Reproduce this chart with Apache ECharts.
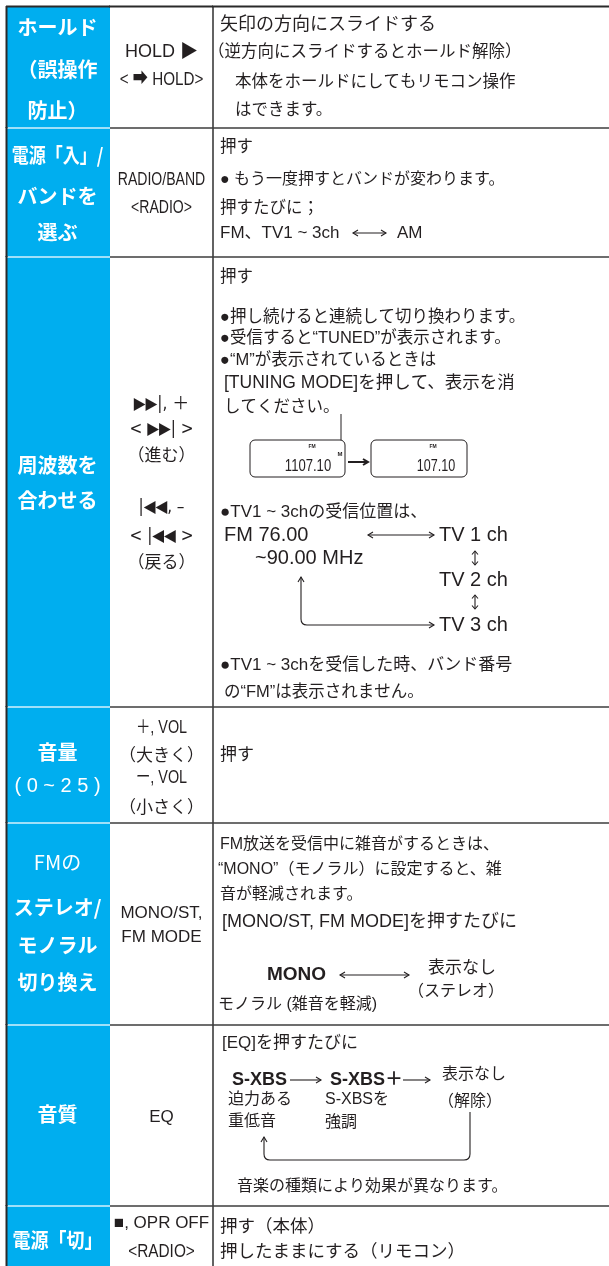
<!DOCTYPE html>
<html><head><meta charset="utf-8">
<script src="https://cdn.jsdelivr.net/npm/echarts@6/dist/echarts.min.js"></script>
<style>html,body{margin:0;padding:0;background:#fff}#c{width:609px;height:1266px}</style>
</head><body><div id="c"></div>
<script>
// ---------- DATA ----------
const columnEdges = [7, 110, 213, 609];
const rowEdges = [7, 128, 257, 707, 823, 1025, 1206, 1266];

const functionNames = [
  ['ホールド', '（誤操作', '防止）'],
  ['電源「入」/', 'バンドを', '選ぶ'],
  ['周波数を', '合わせる'],
  ['音量', '( 0 ~ 2 5 )'],
  ['FMの', 'ステレオ/', 'モノラル', '切り換え'],
  ['音質'],
  ['電源「切」']
];
const buttonNames = [
  ['HOLD ▶', '< ➡ HOLD>'],
  ['RADIO/BAND', '<RADIO>'],
  ['▶▶|, ＋', '< ▶▶| >', '（進む）', '|◀◀, –', '< |◀◀ >', '（戻る）'],
  ['＋, VOL', '（大きく）', 'ー, VOL', '（小さく）'],
  ['MONO/ST,', 'FM MODE'],
  ['EQ'],
  ['■, OPR OFF', '<RADIO>']
];
const operationLines = [
  ['矢印の方向にスライドする', '（逆方向にスライドするとホールド解除）', '本体をホールドにしてもリモコン操作', 'はできます。'],
  ['押す', '● もう一度押すとバンドが変わります。', '押すたびに；', 'FM、TV1 ~ 3ch', 'AM'],
  ['押す', '●押し続けると連続して切り換わります。', '●受信すると“TUNED”が表示されます。', '●“M”が表示されているときは',
   '[TUNING MODE]を押して、表示を消', 'してください。', '●TV1 ~ 3chの受信位置は、', '●TV1 ~ 3chを受信した時、バンド番号', 'の“FM”は表示されません。'],
  ['押す'],
  ['FM放送を受信中に雑音がするときは、', '“MONO”（モノラル）に設定すると、雑', '音が軽減されます。', '[MONO/ST, FM MODE]を押すたびに', 'モノラル (雑音を軽減)'],
  ['[EQ]を押すたびに', '音楽の種類により効果が異なります。'],
  ['押す（本体）', '押したままにする（リモコン）']
];
const displayReadings = ['1107.10', '107.10'];
const displayIndicators = ['FM', 'M', 'FM'];
const fmRange = ['FM 76.00', '~90.00 MHz'];
const tvChannels = ['TV 1 ch', 'TV 2 ch', 'TV 3 ch'];
const stereoModes = ['MONO', '表示なし', '（ステレオ）'];
const eqModes = ['S-XBS', 'S-XBS＋', '表示なし'];
const eqNotes = ['迫力ある', '重低音', 'S-XBSを', '強調', '（解除）'];

// ---------- LAYOUT / STYLE ----------
const BLUE = '#00AEEF';
const INK = '#231F20';
const JP = '"Noto Sans CJK JP", sans-serif';
const LAT = '"Liberation Sans", Arial, "Noto Sans CJK JP", sans-serif';
const SYM = '"DejaVu Sans Condensed", "DejaVu Sans", "Noto Sans CJK JP", sans-serif';

const titleY = [[27, 69, 110], [155, 196, 232], [465, 500], [752, 786], [862, 907, 945, 982], [1114], [1240]];
// [font, weight, size, scaleX]
const titleStyle = [
  [[JP, 'bold', 20, 1], [JP, 'bold', 20, 1], [JP, 'bold', 20, 1]],
  [[JP, 'bold', 20, 0.85], [JP, 'bold', 20, 1], [JP, 'bold', 20, 1]],
  [[JP, 'bold', 20, 1], [JP, 'bold', 20, 1]],
  [[JP, 'bold', 20, 1], [LAT, 'normal', 20, 1]],
  [[JP, 'normal', 20, 1], [JP, 'bold', 20, 1], [JP, 'bold', 20, 1], [JP, 'bold', 20, 1]],
  [[JP, 'bold', 20, 1]],
  [[JP, 'bold', 20, 0.9]]
];
const buttonY = [[52, 80], [180, 208], [405, 430, 455, 508, 537, 562], [728, 755, 778, 807], [913, 937], [1117], [1223, 1252]];
// [font, size, scaleX]
const buttonFont = [
  [[LAT, 18, 1], [LAT, 19, 0.8]],
  [[LAT, 19, 0.74], [LAT, 19, 0.74]],
  [[SYM, 17, 1], [SYM, 17, 1], [JP, 17, 1], [SYM, 17, 1], [SYM, 17, 1], [JP, 17, 1]],
  [[LAT, 18, 0.8], [JP, 17, 1], [LAT, 18, 0.8], [JP, 17, 1]],
  [[LAT, 17, 1], [LAT, 17, 1]],
  [[LAT, 17, 1]],
  [[LAT, 17, 1], [LAT, 19, 0.81]]
];
const opPos = [
  [[220, 25, 18], [208, 52, 16.5], [235, 82, 16.5], [235, 110, 16.5]],
  [[220, 147, 16.5], [220, 180, 16], [220, 208, 16.5], [220, 233, 17], [397, 233, 17]],
  [[220, 277, 16.5], [220, 317, 16.5], [220, 338, 16.5], [220, 360, 16.5], [224, 383, 17.5], [224, 407, 16.5], [220, 512, 17], [220, 665, 17], [224, 692, 16.5]],
  [[220, 755, 17]],
  [[220, 845, 16], [218, 870, 16], [220, 895, 16], [222, 922, 18], [218, 1005, 16]],
  [[222, 1043, 17], [237, 1187, 16]],
  [[220, 1227, 17.5], [220, 1252, 17.5]]
];

// ---------- BUILD TEXT ITEMS ----------
const texts = [];
const c1 = (columnEdges[0] + columnEdges[1]) / 2;
const c2 = (columnEdges[1] + columnEdges[2]) / 2;
functionNames.forEach((rows, r) => rows.forEach((t, i) => {
  const st = titleStyle[r][i];
  texts.push({x: c1 - 1, y: titleY[r][i], text: t, font: st[0], size: st[2], weight: st[1], fill: '#fff', align: 'center', sx: st[3]});
}));
buttonNames.forEach((rows, r) => rows.forEach((t, i) => {
  const f = buttonFont[r][i];
  texts.push({x: c2, y: buttonY[r][i], text: t, font: f[0], size: f[1], weight: 'normal', fill: INK, align: 'center', sx: f[2]});
}));
operationLines.forEach((rows, r) => rows.forEach((t, i) => {
  const p = opPos[r][i];
  texts.push({x: p[0], y: p[1], text: t, font: LAT, size: p[2], weight: 'normal', fill: INK, align: 'left'});
}));
// display diagram
texts.push({x: 308, y: 466, text: displayReadings[0], font: LAT, size: 17, weight: 'normal', fill: INK, align: 'center', sx: 0.77});
texts.push({x: 436, y: 466, text: displayReadings[1], font: LAT, size: 17, weight: 'normal', fill: INK, align: 'center', sx: 0.74});
texts.push({x: 312, y: 447, text: displayIndicators[0], font: LAT, size: 5, weight: 'bold', fill: INK, align: 'center'});
texts.push({x: 340, y: 454, text: displayIndicators[1], font: LAT, size: 6, weight: 'bold', fill: INK, align: 'center'});
texts.push({x: 433, y: 447, text: displayIndicators[2], font: LAT, size: 5, weight: 'bold', fill: INK, align: 'center'});
// TV diagram
texts.push({x: 224, y: 535, text: fmRange[0], font: LAT, size: 20, weight: 'normal', fill: INK, align: 'left'});
texts.push({x: 255, y: 558, text: fmRange[1], font: LAT, size: 20, weight: 'normal', fill: INK, align: 'left'});
[535, 580, 625].forEach((y, i) => texts.push({x: 439, y: y, text: tvChannels[i], font: LAT, size: 20, weight: 'normal', fill: INK, align: 'left'}));
// stereo diagram
texts.push({x: 267, y: 975, text: stereoModes[0], font: LAT, size: 19, weight: 'bold', fill: INK, align: 'left'});
texts.push({x: 462, y: 968, text: stereoModes[1], font: LAT, size: 17, weight: 'normal', fill: INK, align: 'center'});
texts.push({x: 456, y: 992, text: stereoModes[2], font: LAT, size: 16, weight: 'normal', fill: INK, align: 'center'});
// EQ diagram
texts.push({x: 232, y: 1080, text: eqModes[0], font: LAT, size: 18, weight: 'bold', fill: INK, align: 'left'});
texts.push({x: 330, y: 1080, text: eqModes[1], font: LAT, size: 18, weight: 'bold', fill: INK, align: 'left'});
texts.push({x: 474, y: 1075, text: eqModes[2], font: LAT, size: 16, weight: 'normal', fill: INK, align: 'center'});
texts.push({x: 228, y: 1100, text: eqNotes[0], font: LAT, size: 16, weight: 'normal', fill: INK, align: 'left'});
texts.push({x: 228, y: 1122, text: eqNotes[1], font: LAT, size: 16, weight: 'normal', fill: INK, align: 'left'});
texts.push({x: 325, y: 1100, text: eqNotes[2], font: LAT, size: 16, weight: 'normal', fill: INK, align: 'left'});
texts.push({x: 325, y: 1123, text: eqNotes[3], font: LAT, size: 16, weight: 'normal', fill: INK, align: 'left'});
texts.push({x: 470, y: 1102, text: eqNotes[4], font: LAT, size: 16, weight: 'normal', fill: INK, align: 'center'});

// ---------- SHAPES (diagram strokes) ----------
const shapes = [
  {kind: 'arrow', p: [353, 233, 386, 233], a: 1, b: 1},
  {kind: 'line', p: [341, 414, 341, 448]},
  {kind: 'box', p: [250, 440, 95, 37]},
  {kind: 'box', p: [371, 440, 96, 37]},
  {kind: 'arrow', p: [348, 462, 368, 462], a: 0, b: 1, bold: true},
  {kind: 'arrow', p: [368, 535, 434, 535], a: 1, b: 1},
  {kind: 'arrow', p: [475, 551, 475, 565], a: 1, b: 1, small: true},
  {kind: 'arrow', p: [475, 595, 475, 609], a: 1, b: 1, small: true},
  {kind: 'path', pts: [[301, 577], [301, 625], [434, 625]], headStart: true, headEnd: true},
  {kind: 'arrow', p: [340, 975, 409, 975], a: 1, b: 1},
  {kind: 'arrow', p: [290, 1080, 321, 1080], a: 0, b: 1},
  {kind: 'arrow', p: [403, 1080, 430, 1080], a: 0, b: 1},
  {kind: 'path', pts: [[470, 1112], [470, 1160], [264, 1160], [264, 1137]], headStart: false, headEnd: true}
];

// ---------- CHART ----------
const chart = echarts.init(document.getElementById('c'), null, {renderer: 'canvas'});

const cellData = [];
for (let r = 0; r < rowEdges.length - 1; r++) {
  for (let c = 0; c < columnEdges.length - 1; c++) cellData.push([columnEdges[c], rowEdges[r], c, r]);
}

function headLines(api, tip, from, L, W, width) {
  const dx = tip[0] - from[0], dy = tip[1] - from[1];
  const len = Math.hypot(dx, dy) || 1;
  const ux = dx / len, uy = dy / len, nx = -uy, ny = ux;
  const bx = tip[0] - ux * L, by = tip[1] - uy * L;
  return {type: 'polyline', shape: {points: [api.coord([bx + nx * W, by + ny * W]), api.coord(tip), api.coord([bx - nx * W, by - ny * W])]},
    style: {stroke: INK, lineWidth: width, fill: null}};
}

const option = {
  animation: false,
  backgroundColor: '#fff',
  grid: {left: 0, right: 0, top: 0, bottom: 0},
  xAxis: {type: 'value', min: 0, max: 609, show: false},
  yAxis: {type: 'value', min: 0, max: 1266, inverse: true, show: false},
  series: [
    {
      type: 'custom', silent: true, clip: false,
      data: cellData,
      renderItem: function (params, api) {
        const c = api.value(2), r = api.value(3);
        const p0 = api.coord([columnEdges[c], rowEdges[r]]);
        const p1 = api.coord([columnEdges[c + 1], rowEdges[r + 1]]);
        const children = [{type: 'rect', shape: {x: p0[0], y: p0[1], width: p1[0] - p0[0], height: p1[1] - p0[1]},
          style: {fill: c === 0 ? BLUE : '#fff'}}];
        if (r > 0) {
          children.push({type: 'line', shape: {x1: p0[0], y1: p0[1], x2: p1[0], y2: p0[1]},
            style: {stroke: c === 0 ? '#D6F1FC' : '#3C3C3C', lineWidth: 1.6}, z2: 5});
        }
        if (c === 2) {
          children.push({type: 'line', shape: {x1: p0[0], y1: p0[1], x2: p0[0], y2: p1[1]},
            style: {stroke: '#3C3C3C', lineWidth: 1.6}, z2: 6});
        }
        if (c === 0) {
          children.push({type: 'line', shape: {x1: p0[0] - 0.5, y1: p0[1] - 1, x2: p0[0] - 0.5, y2: p1[1]},
            style: {stroke: '#2A2A2A', lineWidth: 2}, z2: 6});
        }
        if (r === 0) {
          children.push({type: 'line', shape: {x1: p0[0] - 1, y1: p0[1] - 0.5, x2: p1[0], y2: p0[1] - 0.5},
            style: {stroke: '#2A2A2A', lineWidth: 2}, z2: 6});
        }
        return {type: 'group', children: children};
      }
    },
    {
      type: 'custom', silent: true, clip: false, z: 3,
      data: shapes.map((s, i) => [0, 0, i]),
      renderItem: function (params, api) {
        const s = shapes[api.value(2)];
        const kids = [];
        if (s.kind === 'line') {
          const a = api.coord([s.p[0], s.p[1]]), b = api.coord([s.p[2], s.p[3]]);
          kids.push({type: 'line', shape: {x1: a[0], y1: a[1], x2: b[0], y2: b[1]}, style: {stroke: INK, lineWidth: 1}});
        } else if (s.kind === 'box') {
          const a = api.coord([s.p[0], s.p[1]]), b = api.coord([s.p[0] + s.p[2], s.p[1] + s.p[3]]);
          kids.push({type: 'rect', shape: {x: a[0], y: a[1], width: b[0] - a[0], height: b[1] - a[1], r: 5},
            style: {stroke: INK, lineWidth: 1, fill: '#fff'}});
        } else if (s.kind === 'arrow') {
          const A = [s.p[0], s.p[1]], B = [s.p[2], s.p[3]];
          const a = api.coord(A), b = api.coord(B);
          const w = s.bold ? 2 : 1.1;
          kids.push({type: 'line', shape: {x1: a[0], y1: a[1], x2: b[0], y2: b[1]}, style: {stroke: INK, lineWidth: w}});
          const L = s.small ? 3.5 : 5, W = 3;
          if (s.b) kids.push(headLines(api, B, A, L, W, s.bold ? 2 : 1.1));
          if (s.a) kids.push(headLines(api, A, B, L, W, 1.1));
        } else if (s.kind === 'path') {
          const pts = s.pts, rad = 6;
          const P = pts.map(p => api.coord(p));
          let d = 'M' + P[0][0] + ' ' + P[0][1];
          for (let i = 1; i < P.length - 1; i++) {
            const prev = P[i - 1], cur = P[i], next = P[i + 1];
            const d1 = Math.hypot(cur[0] - prev[0], cur[1] - prev[1]);
            const d2 = Math.hypot(next[0] - cur[0], next[1] - cur[1]);
            const s1 = [cur[0] - (cur[0] - prev[0]) / d1 * rad, cur[1] - (cur[1] - prev[1]) / d1 * rad];
            const s2 = [cur[0] + (next[0] - cur[0]) / d2 * rad, cur[1] + (next[1] - cur[1]) / d2 * rad];
            d += ' L' + s1[0] + ' ' + s1[1] + ' Q' + cur[0] + ' ' + cur[1] + ' ' + s2[0] + ' ' + s2[1];
          }
          d += ' L' + P[P.length - 1][0] + ' ' + P[P.length - 1][1];
          kids.push({type: 'path', shape: {pathData: d}, style: {stroke: INK, lineWidth: 1.1, fill: null}});
          if (s.headStart) kids.push(headLines(api, pts[0], pts[1], 5, 3, 1.1));
          if (s.headEnd) kids.push(headLines(api, pts[pts.length - 1], pts[pts.length - 2], 5, 3, 1.1));
        }
        return {type: 'group', children: kids};
      }
    },
    {
      type: 'custom', silent: true, clip: false, z: 4,
      data: texts.map(t => [t.x, t.y]),
      renderItem: function (params, api) {
        const t = texts[params.dataIndex];
        const p = api.coord([api.value(0), api.value(1)]);
        return {type: 'text', x: p[0], y: p[1], scaleX: t.sx || 1,
          style: {text: t.text, fill: t.fill, fontSize: t.size, fontFamily: t.font, fontWeight: t.weight,
            align: t.align, verticalAlign: 'middle'}};
      }
    }
  ]
};
chart.setOption(option);
</script>
</body></html>
